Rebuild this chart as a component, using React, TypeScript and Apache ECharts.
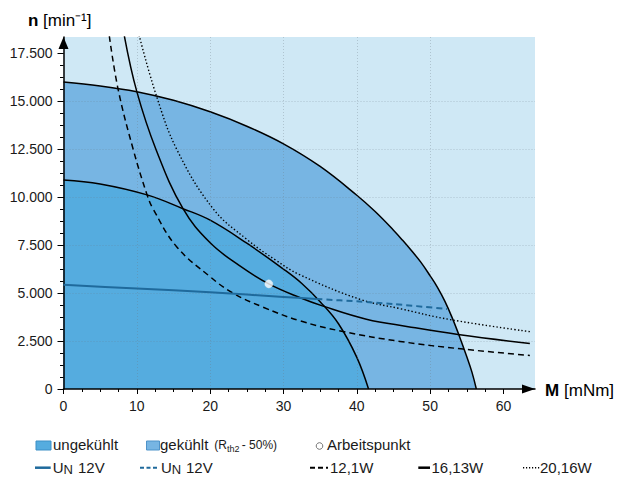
import React, { useEffect, useRef } from 'react';
import * as echarts from 'echarts';

// ---- axis ticks ----
const xTicks = [0, 10, 20, 30, 40, 50, 60];
const xMinorTicks = [0, 2.5, 5, 7.5, 10, 12.5, 15, 17.5, 20, 22.5, 25, 27.5, 30, 32.5, 35, 37.5, 40, 42.5, 45, 47.5, 50, 52.5, 55, 57.5, 60, 62.5];
const yTicks = [0, 2500, 5000, 7500, 10000, 12500, 15000, 17500];
const yMinorTicks = [0, 625, 1250, 1875, 2500, 3125, 3750, 4375, 5000, 5625, 6250, 6875, 7500, 8125, 8750, 9375, 10000, 10625, 11250, 11875, 12500, 13125, 13750, 14375, 15000, 15625, 16250, 16875, 17500];

// ---- data: [M (mNm), n (min^-1)] ----
const gekuehlt = [[0, 16000], [5, 15800], [10, 15500], [15, 15050], [20, 14450], [25, 13700], [30, 12780], [35, 11600], [40, 10100], [42.5, 9250], [45, 8280], [46.25, 7750], [47.5, 7190], [48.75, 6600], [50, 5900], [51, 5300], [52, 4580], [53, 3720], [54, 2740], [55, 1680], [55.7, 880], [56.3, 0]];
const ungekuehlt = [[0, 10900], [5, 10690], [11.4, 10120], [16.3, 9400], [20, 8800], [25, 7600], [30, 6250], [32.5, 5500], [35, 4550], [37.5, 3400], [40, 1650], [41.6, 0]];
const p12_1W = [[6.25, 18400], [7.45, 15620], [9.5, 12500], [11.4, 10120], [12.2, 9400], [15.4, 7430], [20, 5850], [23.1, 5000], [27.2, 4270], [32.2, 3560], [38.1, 3000], [45.9, 2480], [54.5, 2080], [63.6, 1750]];
const p16_13W = [[8.3, 18400], [10, 15500], [12.6, 12500], [16.3, 9400], [20, 7620], [24, 6430], [28, 5480], [32.2, 4770], [35.4, 4320], [41.3, 3640], [47, 3250], [53.8, 2840], [63.6, 2370]];
const p20_16W = [[10.3, 18450], [12.7, 15250], [15.5, 12450], [20.4, 9400], [25, 7800], [29, 6700], [32.2, 5960], [40.4, 4680], [46, 4180], [52.7, 3620], [63.6, 2990]];
const unSolid = [[0, 5430], [10, 5240], [20, 5040], [30, 4800], [34.5, 4690]];
const unDashed = [[34.5, 4690], [40, 4570], [45, 4430], [52.3, 4170]];
const arbeitspunkt = [[28, 5480]];

const FF = '"Liberation Sans", Arial, Helvetica, sans-serif';
const C_LIGHT = '#cfe8f5';
const C_MED = '#77b5e3';
const C_DARK = '#55acdf';
const C_BLUE = '#1f6a9c';

function fmtDE(v: number): string {
  if (v >= 1000) {
    const th = Math.floor(v / 1000);
    const rest = String(Math.round(v % 1000)).padStart(3, '0');
    return th + '.' + rest;
  }
  return String(v);
}

function txt(x: number, y: number, text: string, size: number, extra: any = {}) {
  return {
    type: 'text',
    x,
    y,
    silent: true,
    style: {
      text,
      fontSize: size,
      fontFamily: FF,
      fill: '#1a1a1a',
      textAlign: 'left',
      textVerticalAlign: 'middle',
      align: 'left',
      verticalAlign: 'middle',
      ...extra,
    },
  };
}

function seg(x1: number, x2: number, y: number, stroke: string, lineWidth: number, lineDash?: number[]) {
  return {
    type: 'line',
    silent: true,
    shape: { x1, y1: y, x2, y2: y },
    style: { stroke, lineWidth, lineDash: lineDash || null },
  };
}

export default function App() {
  const ref = useRef<HTMLDivElement>(null);

  useEffect(() => {
    const chart = echarts.init(ref.current!, null, { renderer: 'svg' });
    const gridLine = { type: [1, 2], color: 'rgba(110,120,130,0.32)', width: 1 };
    const option: any = {
      animation: false,
      grid: { left: 63.5, right: 90, top: 37, bottom: 88, show: true, backgroundColor: C_LIGHT, borderWidth: 0 },
      xAxis: [
        {
          type: 'value', min: 0, max: 64.3, interval: 10, position: 'bottom', z: 5,
          axisLine: { show: true, onZero: false, lineStyle: { color: '#000', width: 1.5 }, symbol: ['none', 'triangle'], symbolSize: [9, 13], symbolOffset: [0, -6.5] },
          axisTick: { show: true, customValues: xTicks, length: 5, lineStyle: { color: '#000', width: 1 } },
          axisLabel: { show: true, customValues: xTicks, fontSize: 14, color: '#1a1a1a', margin: 10, fontFamily: FF },
          splitLine: { show: true, showMinLine: false, showMaxLine: false, lineStyle: gridLine },
        },
        {
          type: 'value', min: 0, max: 64.3, position: 'bottom', z: 5,
          axisLine: { show: false, onZero: false },
          axisTick: { show: true, customValues: xMinorTicks, length: 3, lineStyle: { color: '#000', width: 1 } },
          axisLabel: { show: false },
          splitLine: { show: false },
        },
      ],
      yAxis: [
        {
          type: 'value', min: 0, max: 18350, interval: 2500, position: 'left', z: 5,
          axisLine: { show: true, onZero: false, lineStyle: { color: '#000', width: 1.5 }, symbol: ['none', 'triangle'], symbolSize: [10, 12], symbolOffset: [0, -6] },
          axisTick: { show: true, customValues: yTicks, length: 6, lineStyle: { color: '#000', width: 1 } },
          axisLabel: { show: true, customValues: yTicks, fontSize: 14, color: '#1a1a1a', margin: 11, fontFamily: FF, formatter: (v: number) => fmtDE(v) },
          splitLine: { show: true, showMinLine: false, showMaxLine: false, lineStyle: gridLine },
        },
        {
          type: 'value', min: 0, max: 18350, position: 'left', z: 5,
          axisLine: { show: false, onZero: false },
          axisTick: { show: true, customValues: yMinorTicks, length: 3.5, lineStyle: { color: '#000', width: 1 } },
          axisLabel: { show: false },
          splitLine: { show: false },
        },
      ],
      series: [
        {
          name: 'gekühlt', type: 'line', data: gekuehlt, smooth: 0.4, symbol: 'none', z: 2,
          lineStyle: { color: '#000', width: 1.5 }, areaStyle: { color: C_MED, opacity: 1 },
        },
        {
          name: 'ungekühlt', type: 'line', data: ungekuehlt, smooth: 0.4, symbol: 'none', z: 2,
          lineStyle: { color: '#000', width: 1.5 }, areaStyle: { color: C_DARK, opacity: 1 },
        },
        {
          name: '12,1W', type: 'line', data: p12_1W, smooth: 0.4, symbol: 'none', z: 11,
          lineStyle: { color: '#000', width: 1.5, type: [6, 4] },
        },
        {
          name: '16,13W', type: 'line', data: p16_13W, smooth: 0.4, symbol: 'none', z: 11,
          lineStyle: { color: '#000', width: 1.5 },
        },
        {
          name: '20,16W', type: 'line', data: p20_16W, smooth: 0.4, symbol: 'none', z: 11,
          lineStyle: { color: '#000', width: 1.4, type: [1.4, 2.2] },
        },
        {
          name: 'UN 12V', type: 'line', data: unSolid, smooth: 0.3, symbol: 'none', z: 12,
          lineStyle: { color: C_BLUE, width: 2 },
        },
        {
          name: 'UN 12V gekühlt', type: 'line', data: unDashed, smooth: 0.3, symbol: 'none', z: 12,
          lineStyle: { color: C_BLUE, width: 2, type: [6, 4] },
        },
        {
          name: 'Arbeitspunkt', type: 'scatter', data: arbeitspunkt, symbol: 'circle', symbolSize: 8, z: 20,
          itemStyle: { color: '#ffffff', borderColor: '#f4f4f4', borderWidth: 0.5 },
        },
      ],
      graphic: {
        elements: [
          // axis names
          txt(28, 20, 'n', 17, { fontWeight: 'bold', fill: '#000' }),
          txt(43, 20, '[min⁻¹]', 17, { fill: '#000' }),
          txt(545, 390.5, 'M', 17, { fontWeight: 'bold', fill: '#000' }),
          txt(564, 390.5, '[mNm]', 17, { fill: '#000' }),
          // in-plot label U_N
          txt(99, 275.8, 'U', 16, { fill: '#111' }),
          txt(110.7, 279.5, 'N', 12, { fill: '#111' }),
          // legend row 1
          { type: 'rect', silent: true, shape: { x: 36, y: 441, width: 15, height: 9 }, style: { fill: C_DARK, stroke: '#3d8fc6', lineWidth: 1 } },
          txt(53, 444, 'ungekühlt', 15),
          { type: 'rect', silent: true, shape: { x: 146.5, y: 441, width: 13, height: 9 }, style: { fill: C_MED, stroke: '#4f93c9', lineWidth: 1 } },
          txt(160, 444, 'gekühlt', 15),
          txt(214.3, 444.8, '(R', 12),
          txt(227, 448.9, 'th2', 9),
          txt(241.7, 444.8, '- 50%)', 12),
          { type: 'circle', silent: true, shape: { cx: 319.5, cy: 446, r: 3.3 }, style: { fill: '#fff', stroke: '#777', lineWidth: 1 } },
          txt(327, 444, 'Arbeitspunkt', 15),
          // legend row 2
          seg(35, 50.7, 467.7, C_BLUE, 2.5),
          txt(52.7, 467.5, 'U', 15),
          txt(63.5, 469.7, 'N', 13),
          txt(78, 467.5, '12V', 15),
          seg(140, 158.3, 467.7, C_BLUE, 2, [4, 2.5]),
          txt(161, 467.5, 'U', 15),
          txt(171.8, 469.7, 'N', 13),
          txt(186, 467.5, '12V', 15),
          seg(310, 328, 467.7, '#000', 2, [5, 3]),
          txt(330, 467.5, '12,1W', 15),
          seg(418.3, 430, 467.7, '#000', 2.5),
          txt(431.5, 467.5, '16,13W', 15),
          seg(523, 539.5, 467.7, '#000', 1.5, [1.2, 1.8]),
          txt(540, 467.5, '20,16W', 15),
        ],
      },
    };
    chart.setOption(option);
    return () => chart.dispose();
  }, []);

  return (
    <div
      ref={ref}
      style={{ position: 'absolute', left: 0, top: 0, width: 625, height: 477, background: '#ffffff' }}
    />
  );
}
